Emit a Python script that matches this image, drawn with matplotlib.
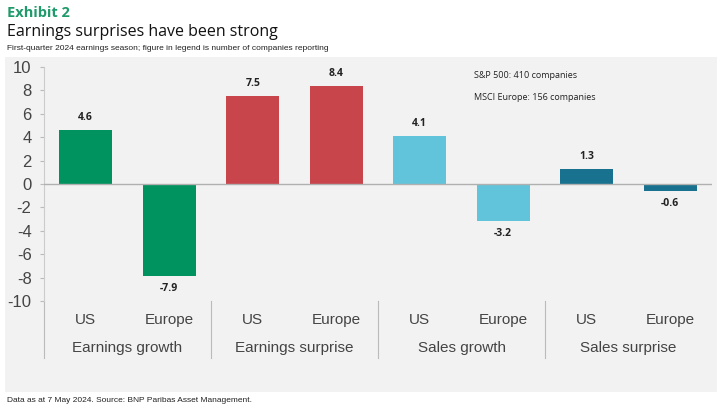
import matplotlib
matplotlib.use('Agg')
import matplotlib.pyplot as plt
from matplotlib.patches import Rectangle
import matplotlib.transforms as mtransforms

groups = ['Earnings growth', 'Earnings surprise', 'Sales growth', 'Sales surprise']
regions = ['US', 'Europe']
values = [4.6, -7.9, 7.5, 8.4, 4.1, -3.2, 1.3, -0.6]
group_colors = ['#00935f', '#c8454c', '#62c4da', '#18718f']
yticks = list(range(-10, 11, 2))
legend_lines = ['S&P 500: 410 companies', 'MSCI Europe: 156 companies']

NARROW = ['Liberation Sans', 'DejaVu Sans']
plt.rcParams['font.family'] = ['Open Sans', 'DejaVu Sans']

fig = plt.figure(figsize=(7.25, 4.19), dpi=100)
fig.patch.set_facecolor('white')
fig.patches.append(Rectangle((5 / 725, 1 - 392 / 419), 712 / 725, 335 / 419,
                             transform=fig.transFigure, facecolor='#f2f2f2',
                             edgecolor='none', zorder=-5))

ax = fig.add_axes([44 / 725, 1 - 301 / 419, 668 / 725, 234 / 419])
ax.set_facecolor('none')
ax.set_zorder(2)

xs = list(range(len(values)))
colors = [group_colors[i // 2] for i in xs]
ax.bar(xs, values, width=0.63, color=colors, zorder=2)
ax.axhline(0, color='#b0b0b0', linewidth=1, zorder=3)

for x, v in zip(xs, values):
    if v >= 0:
        ax.text(x, v + 0.6, f'{v:.1f}', ha='center', va='bottom', fontsize=7.5,
                fontweight='bold', color='#222222')
    else:
        ax.text(x, v - 0.6, f'{v:.1f}', ha='center', va='top', fontsize=7.5,
                fontweight='bold', color='#222222')

ax.set_xlim(-0.5, len(values) - 0.5)
ax.set_ylim(-10, 10)
ax.set_yticks(yticks)
ax.set_yticklabels([str(t) for t in yticks], fontsize=12, color='#444444',
                   family=['Liberation Sans', 'DejaVu Sans'])
ax.tick_params(axis='y', length=3, color='#bbbbbb', pad=6)
ax.set_xticks([])
for side in ['top', 'right', 'bottom']:
    ax.spines[side].set_visible(False)
ax.spines['left'].set_color('#cccccc')

# category labels below the axis
trans = mtransforms.blended_transform_factory(ax.transData, ax.transAxes)
for i, x in enumerate(xs):
    ax.text(x, -0.083, regions[i % 2], transform=trans, ha='center', va='center',
            fontsize=11, color='#444444', family=NARROW)
for g, name in enumerate(groups):
    ax.text(2 * g + 0.5, -0.2, name, transform=trans, ha='center', va='center',
            fontsize=11, color='#444444', family=NARROW)
    ax.plot([2 * g - 0.5, 2 * g - 0.5], [0, -0.244], transform=trans,
            color='#bbbbbb', linewidth=0.8, clip_on=False)

for k, line in enumerate(legend_lines):
    fig.text(474 / 725, 1 - (75 + 23 * k) / 419, line, ha='left', va='center',
             fontsize=6.5, color='#222222')

fig.text(7 / 725, 1 - 13 / 419, 'Exhibit 2', ha='left', va='center', fontsize=10.5,
         fontweight='bold', color='#1f9a6a')
fig.text(7 / 725, 1 - 32 / 419, 'Earnings surprises have been strong', ha='left',
         va='center', fontsize=11.5, color='#111111')
fig.text(7 / 725, 1 - 48 / 419,
         'First-quarter 2024 earnings season; figure in legend is number of companies reporting',
         ha='left', va='center', fontsize=6, color='#222222', family=NARROW)
fig.text(7 / 725, 1 - 400 / 419, 'Data as at 7 May 2024. Source: BNP Paribas Asset Management.',
         ha='left', va='center', fontsize=6, color='#222222', family=NARROW)

fig.savefig('out.png', dpi=100)
